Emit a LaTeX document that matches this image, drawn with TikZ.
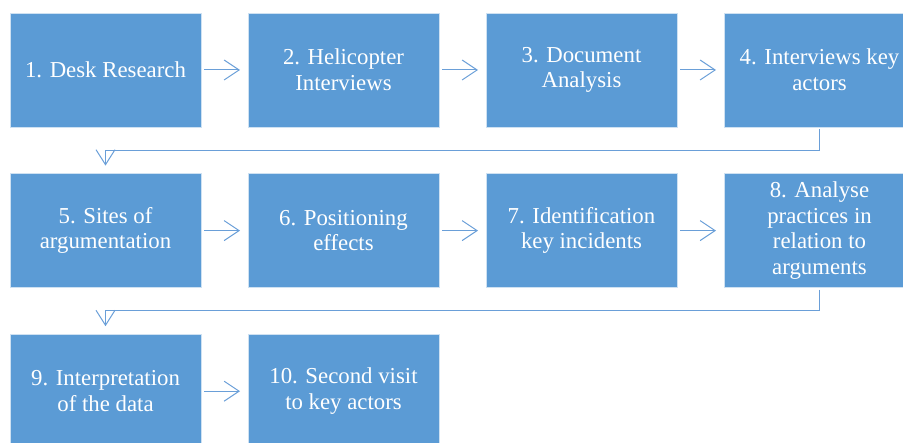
\documentclass[tikz,border=0pt]{standalone}
\usepackage{fontspec}
\setmainfont{Liberation Serif}
\newfontfamily\stepfont{Liberation Serif}
\usepackage{tikz}
\usetikzlibrary{arrows.meta, positioning}

\definecolor{stepblue}{HTML}{5B9BD5}
\definecolor{linkblue}{HTML}{6A9FD8}

\begin{document}
\begin{tikzpicture}[
        stepbox/.style={rectangle, draw=white!70!stepblue, line width=0.6pt, fill=stepblue, text=white, minimum width=191pt, minimum height=114pt, inner sep=2pt, outer sep=0pt, align=center, font=\stepfont\fontsize{22.8}{25.6}\selectfont},
        flow/.style={-{Straight Barb[length=15pt, width=20pt]}, draw=linkblue, line width=1pt, shorten <=3pt, shorten >=8pt},
        wrap/.style={-{Straight Barb[length=15pt, width=19pt]}, draw=linkblue, line width=1pt, shorten <=2pt, shorten >=8pt},
        node distance=46.6pt and 47pt
    ]
        \useasboundingbox (0,0) rectangle (903pt,-443pt);
        \clip (0,0) rectangle (903pt,-443pt);

        % first row
        \node[stepbox, anchor=north west] (s1) at (10pt,-13pt) {1. Desk Research};
        \node[stepbox, right=of s1] (s2) {2. Helicopter\\Interviews};
        \node[stepbox, right=of s2] (s3) {3. Document\\Analysis};
        \node[stepbox, right=of s3] (s4) {4. Interviews key\\actors};

        % second row
        \node[stepbox, below=of s1] (s5) {5. Sites of\\argumentation};
        \node[stepbox, right=of s5] (s6) {6. Positioning\\effects};
        \node[stepbox, right=of s6] (s7) {7. Identification\\key incidents};
        \node[stepbox, right=of s7] (s8) {8. Analyse\\practices in\\relation to\\arguments};

        % third row
        \node[stepbox, below=of s5] (s9) {9. Interpretation\\of the data};
        \node[stepbox, right=of s9] (s10) {10. Second visit\\to key actors};

        % arrows along the rows
        \draw[flow] (s1) -- (s2);
        \draw[flow] (s2) -- (s3);
        \draw[flow] (s3) -- (s4);
        \draw[flow] (s5) -- (s6);
        \draw[flow] (s6) -- (s7);
        \draw[flow] (s7) -- (s8);
        \draw[flow] (s9) -- (s10);

        % wrap to the next row
        \draw[wrap] (s4.south) -- ++(0,-23.3pt) -| (s5.north);
        \draw[wrap] (s8.south) -- ++(0,-23.3pt) -| (s9.north);
\end{tikzpicture}
\end{document}
